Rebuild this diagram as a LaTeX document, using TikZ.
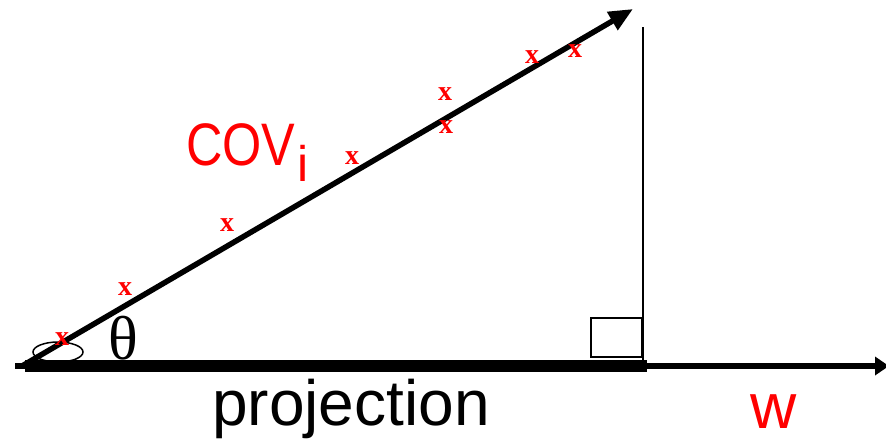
\documentclass[tikz,border=0pt]{standalone}
\usepackage{fontspec}
\setmainfont{Liberation Serif}
\setsansfont{Liberation Sans}
\usetikzlibrary{arrows.meta}
\definecolor{myred}{RGB}{255,0,0}
\begin{document}
\begin{tikzpicture}[x=1pt,y=-1pt,
  mark/.style={},
  xmark/.style={text=myred, font=\fontsize{28}{28}\selectfont\bfseries, inner sep=0pt, anchor=center},
  bigtext/.style={font=\sffamily\fontsize{64}{64}\selectfont, inner sep=0pt, anchor=base west},
  thinline/.style={line width=1.8pt}]
\useasboundingbox (0,0) rectangle (886,439);
% key points
\coordinate (L) at (15,366);
\coordinate (O) at (22,366);
\coordinate (Ps) at (25,366);
\coordinate (Pe) at (647,366);
\coordinate (R) at (889,366);
\coordinate (T) at (633,9);
\coordinate (Vt) at (643,27);
\coordinate (Vb) at (643,360);
\coordinate (B1) at (591,318);
\coordinate (B2) at (642,357);
% right angle box and perpendicular
\draw[line width=1.5pt] (B1) rectangle (B2);
\draw[thinline] (Vt) -- (Vb);
% w axis
\draw[line width=6pt, -{Triangle[length=14pt,width=18pt]}] (L) -- (R);
% projection
\draw[line width=12pt] (Ps) -- (Pe);
% angle ellipse
\draw[line width=1.5pt] (58,352) ellipse [x radius=25, y radius=10];
% cov vector
\draw[line width=5.5pt, -{Triangle[length=24pt,width=20pt]}] (O) -- (T);
% x marks
\node[xmark] (x1) at (62,339) {x};
\node[xmark] (x2) at (125,289) {x};
\node[xmark] (x3) at (227,225) {x};
\node[xmark] (x4) at (352,158) {x};
\node[xmark] (x5) at (445,94) {x};
\node[xmark] (x6) at (446,127) {x};
\node[xmark] (x7) at (532,57) {x};
\node[xmark] (x8) at (575,51) {x};
% labels
\node[inner sep=0pt, anchor=base west, font=\fontsize{62}{62}\selectfont] (theta) at (108,359) {θ};
\node[bigtext] (proj) at (212,425) {projection};
\node[bigtext, text=myred] (w) at (750,428) {w};
\node[text=myred, font=\sffamily\fontsize{60}{60}\selectfont, inner sep=0pt, anchor=base west, xscale=0.84] (cov) at (186,165) {COV};
\node[text=myred, font=\sffamily\fontsize{50}{50}\selectfont, inner sep=0pt, anchor=base west] (sub) at (297,181) {i};
\end{tikzpicture}
\end{document}
